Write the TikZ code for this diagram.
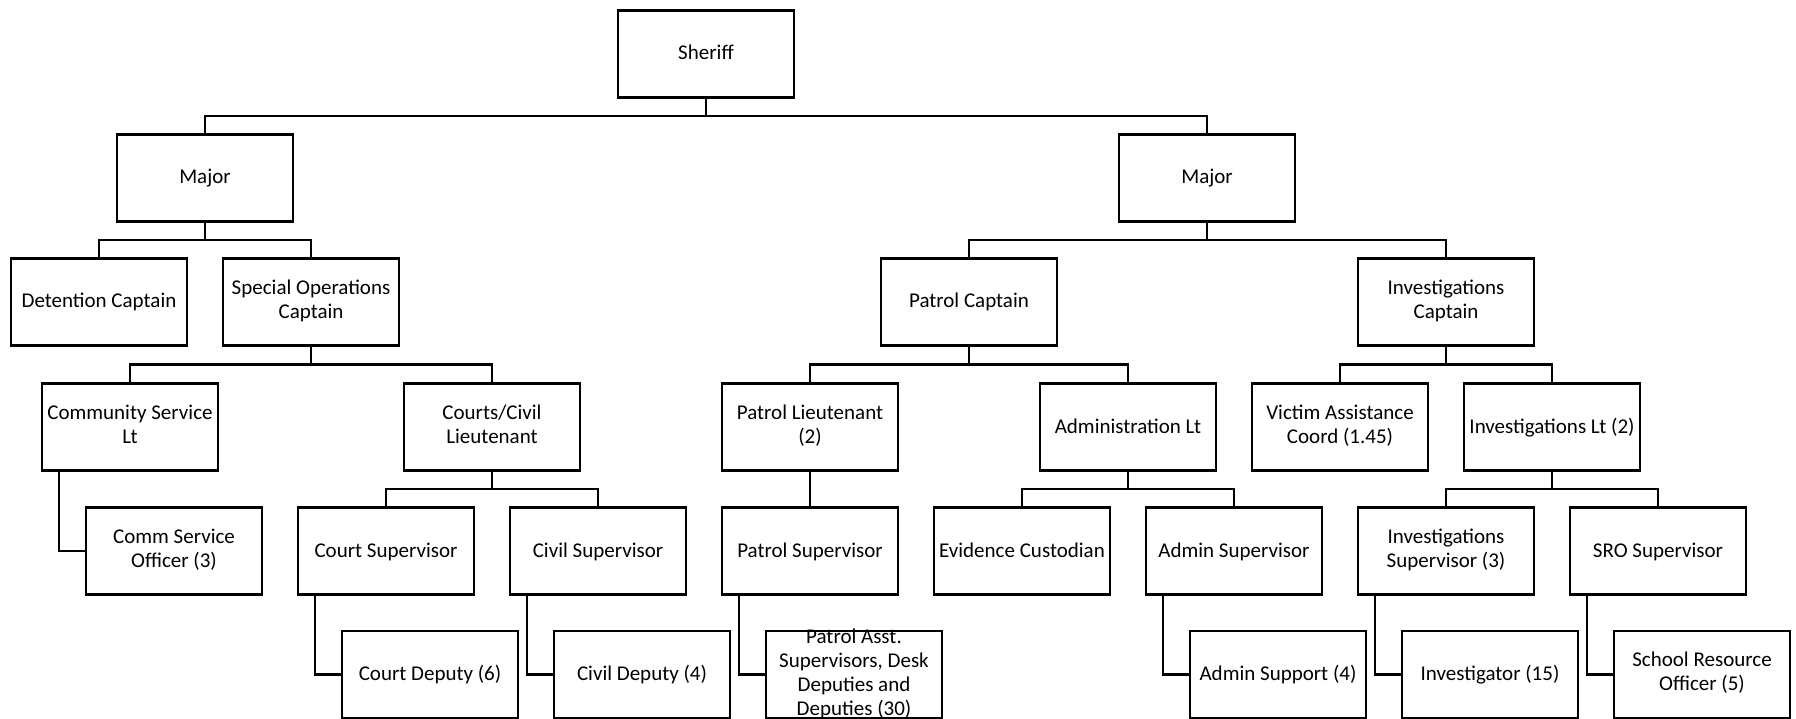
\documentclass[tikz,border=0pt]{standalone}
\usepackage{fontspec}
\setmainfont{Carlito}
\usetikzlibrary{calc}
% line strut: 17.9pt above the baseline, 5.9pt below
\newcommand\lnstrut{\rule[-5.9pt]{0pt}{23.8pt}}
\begin{document}
\begin{tikzpicture}[x=1pt,y=-1pt,
  boxtext/.style={align=center, inner sep=0pt, font=\fontsize{21}{23.8}\selectfont,
    execute at begin node=\lnstrut, execute at end node=\lnstrut},
  box/.style={boxtext, draw, line width=2.6pt, minimum width=176pt, minimum height=87pt,
    fill=white},
  wire/.style={line width=2.4pt},
]
\useasboundingbox (0,0) rectangle (1796,719);
\clip (0,0) rectangle (1796,719);

% ---- level 0 / 1
\node[box] (sheriff) at (706,54) {Sheriff};
\node[box] (majL) at (205,178) {Major};
\node[box] (majR) at (1207,178) {Major};

% ---- captains
\node[box] (det)  at (99,302)   {Detention Captain};
\node[box] (spec) at (311,302)  {Special Operations\\Captain};
\node[box] (patc) at (969,302)  {Patrol Captain};
\node[box] (invc) at (1446,302) {Investigations\\Captain};

% ---- lieutenants
\node[box] (cslt)  at (130,427)  {Community Service\\Lt};
\node[box] (ccl)   at (492,427)  {Courts/Civil\\Lieutenant};
\node[box] (patl)  at (810,427)  {Patrol Lieutenant\\(2)};
\node[box] (admlt) at (1128,427) {Administration Lt};
\node[box] (vic)   at (1340,427) {Victim Assistance\\Coord (1.45)};
\node[box] (invlt) at (1552,427) {Investigations Lt (2)};

% ---- supervisors
\node[box] (cso) at (174,551)  {Comm Service\\Officer (3)};
\node[box] (crs) at (386,551)  {Court Supervisor};
\node[box] (cvs) at (598,551)  {Civil Supervisor};
\node[box] (pts) at (810,551)  {Patrol Supervisor};
\node[box] (evc) at (1022,551) {Evidence Custodian};
\node[box] (ads) at (1234,551) {Admin Supervisor};
\node[box] (ivs) at (1446,551) {Investigations\\Supervisor (3)};
\node[box] (sro) at (1658,551) {SRO Supervisor};

% ---- staff
\node[box] (crd) at (430,674.5)  {Court Deputy (6)};
\node[box] (cvd) at (642,674.5)  {Civil Deputy (4)};
\node[box] (pad) at (854,674.5)  {};
\node[boxtext] at ([yshift=-0.5pt]pad.center) {Patrol Asst.\\Supervisors, Desk\\Deputies and\\Deputies (30)};
\node[box] (adp) at (1278,674.5) {Admin Support (4)};
\node[box] (ivg) at (1490,674.5) {Investigator (15)};
\node[box] (srf) at (1702,674.5) {School Resource\\Officer (5)};

% ---- bus connectors
\foreach \p/\c in {sheriff/majL, sheriff/majR,
                   majL/det, majL/spec, majR/patc, majR/invc,
                   spec/cslt, spec/ccl, patc/patl, patc/admlt, invc/vic, invc/invlt,
                   ccl/crs, ccl/cvs, admlt/evc, admlt/ads, invlt/ivs, invlt/sro}
  \draw[wire] (\p.south) -- ($(\p.south)!0.5!(\p.south |- \c.north)$) -| (\c.north);

\draw[wire] (patl.south) -- (pts.north);

% ---- side elbow connectors
\foreach \p/\c in {cslt/cso, crs/crd, cvs/cvd, pts/pad, ads/adp, ivs/ivg, sro/srf}
  \draw[wire] ([xshift=18pt]\p.south west) |- (\c.west);
\end{tikzpicture}
\end{document}
